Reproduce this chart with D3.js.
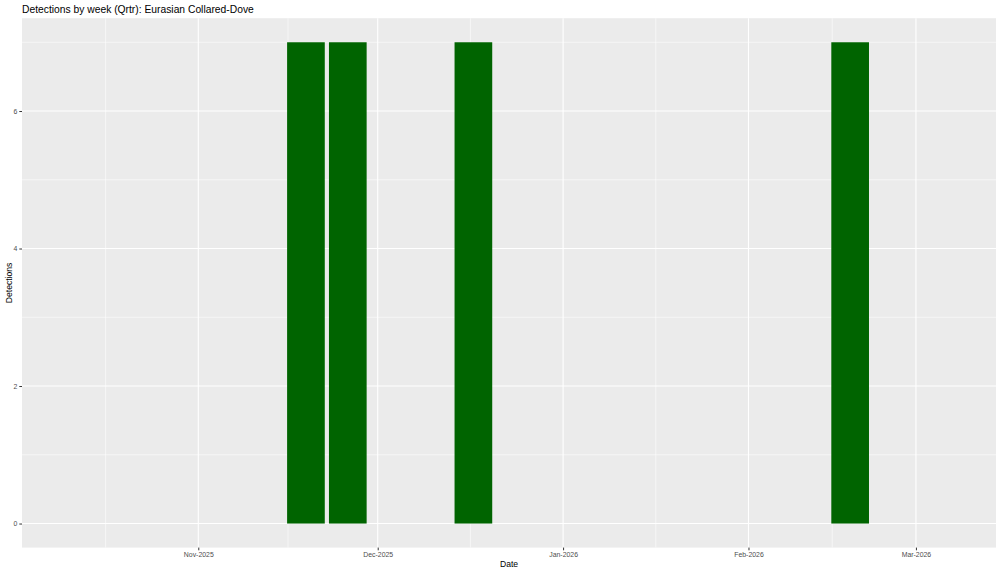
<!DOCTYPE html>
<html><head><meta charset="utf-8">
<script src="https://cdn.jsdelivr.net/npm/d3@7"></script>
<style>body{margin:0;background:#fff}svg{display:block}</style>
</head><body>
<svg id="c" width="1000" height="573"></svg>
<script>
const weeks = ["2025-11-19", "2025-11-26", "2025-12-17", "2026-02-18"];
const detections = [7, 7, 7, 7];
const yTicks = [0, 2, 4, 6];
const yMinor = [1, 3, 5, 7];
const xTickDates = ["2025-11-01", "2025-12-01", "2026-01-01", "2026-02-01", "2026-03-01"];
const xMinorDates = ["2025-10-16T12:00Z", "2025-11-16", "2025-12-16T12:00Z", "2026-01-16T12:00Z", "2026-02-15"];
const title = "Detections by week (Qrtr): Eurasian Collared-Dove";

const parse = s => new Date(s.length === 10 ? s + "T00:00:00Z" : s);
const svg = d3.select("#c");
const font = "'Liberation Sans', Arial, Helvetica, sans-serif";
const L = 22, R = 996, T = 18.2, B = 547.6;

const x = d3.scaleUtc().domain([parse("2025-10-02T12:30:00Z"), parse("2026-03-14T09:20:00Z")]).range([L, R]);
const y = d3.scaleLinear().domain([-0.35, 7.35]).range([B, T]);

svg.append("rect").attr("x", L).attr("y", T).attr("width", R - L).attr("height", B - T).attr("fill", "#EBEBEB");

const g = svg.append("g");
// minor grid
g.selectAll(".ym").data(yMinor).join("line")
  .attr("x1", L).attr("x2", R).attr("y1", d => y(d)).attr("y2", d => y(d))
  .attr("stroke", "#fff").attr("stroke-width", 0.55);
g.selectAll(".xm").data(xMinorDates.map(parse)).join("line")
  .attr("y1", T).attr("y2", B).attr("x1", d => x(d)).attr("x2", d => x(d))
  .attr("stroke", "#fff").attr("stroke-width", 0.55);
// major grid
g.selectAll(".yM").data(yTicks).join("line")
  .attr("x1", L).attr("x2", R).attr("y1", d => y(d)).attr("y2", d => y(d))
  .attr("stroke", "#fff").attr("stroke-width", 1.1);
g.selectAll(".xM").data(xTickDates.map(parse)).join("line")
  .attr("y1", T).attr("y2", B).attr("x1", d => x(d)).attr("x2", d => x(d))
  .attr("stroke", "#fff").attr("stroke-width", 1.1);

// bars
const halfW = 3.15 * 864e5;
svg.selectAll(".bar").data(weeks.map((w, i) => ({d: parse(w), v: detections[i]}))).join("rect")
  .attr("x", d => x(new Date(+d.d - halfW)))
  .attr("width", d => x(new Date(+d.d + halfW)) - x(new Date(+d.d - halfW)))
  .attr("y", d => y(d.v)).attr("height", d => y(0) - y(d.v))
  .attr("fill", "#006400");

// axes
const fmt = d3.utcFormat("%b-%Y");
const xAxis = d3.axisBottom(x).tickValues(xTickDates.map(parse)).tickFormat(fmt).tickSize(2.7).tickPadding(2);
const xa = svg.append("g").attr("transform", `translate(0,${B})`).call(xAxis);
const yAxis = d3.axisLeft(y).tickValues(yTicks).tickSize(2.7).tickPadding(2);
const ya = svg.append("g").attr("transform", `translate(${L},0)`).call(yAxis);
[xa, ya].forEach(a => {
  a.select(".domain").remove();
  a.selectAll(".tick line").attr("stroke", "#333").attr("stroke-width", 1);
  a.selectAll(".tick text").attr("fill", "#4D4D4D").style("font-family", font).style("font-size", "6.9px");
});
xa.selectAll(".tick text").attr("dy", "0.71em");

svg.append("text").attr("x", (L + R) / 2).attr("y", 567).attr("text-anchor", "middle")
  .style("font-family", font).style("font-size", "8.6px").attr("fill", "#000").text("Date");
svg.append("text").attr("transform", `translate(11.5,${(T + B) / 2}) rotate(-90)`).attr("text-anchor", "middle")
  .style("font-family", font).style("font-size", "8.6px").attr("fill", "#000").text("Detections");
svg.append("text").attr("x", L).attr("y", 13).style("font-family", font).style("font-size", "10.3px")
  .attr("fill", "#000").text(title);
</script>
</body></html>
